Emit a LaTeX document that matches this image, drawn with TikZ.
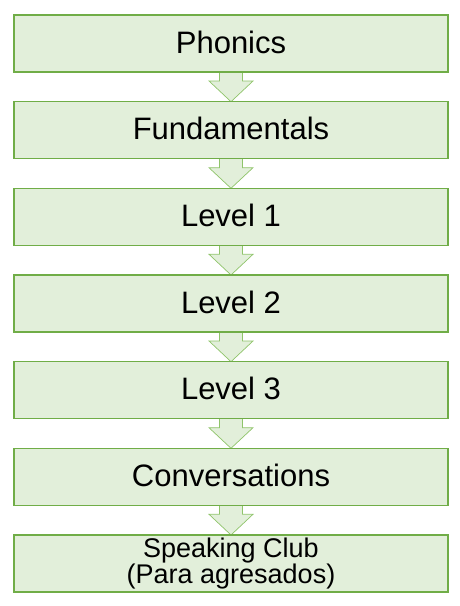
\documentclass[tikz,border=0pt]{standalone}
\usepackage{fontspec}
\setmainfont{Liberation Sans}
\usetikzlibrary{calc}
\definecolor{boxfill}{HTML}{E2EFDA}
\definecolor{boxline}{HTML}{70AD47}
\definecolor{arrline}{HTML}{8FC46A}
\tikzset{
  stepbox/.style={draw=boxline, fill=boxfill, line width=1.5pt, minimum width=434pt, minimum height=57pt, inner sep=0pt, font=\fontsize{31}{34}\selectfont, text=black, text height=23pt, text depth=4pt},
  smallbox/.style={draw=boxline, fill=boxfill, line width=1.5pt, minimum width=434pt, minimum height=57pt, inner sep=0pt, text=black, font=\fontsize{27}{25}\selectfont, align=center},
  flowarrow/.style={draw=arrline, fill=boxfill, line width=0.7pt, line join=miter}
}
\begin{document}
\begin{tikzpicture}[x=1pt, y=-1pt]
\useasboundingbox (0,0) rectangle (460,606);
\path (231,43.5) coordinate (c1) (231,130.2) coordinate (c2) (231,216.8) coordinate (c3)
      (231,303.5) coordinate (c4) (231,390.2) coordinate (c5) (231,476.8) coordinate (c6)
      (231,563.5) coordinate (c7);
\foreach \a/\b in {c1/c2,c2/c3,c3/c4,c4/c5,c5/c6,c6/c7}{
  \draw[flowarrow] ($(\a)+(-11.5,0)$) -- ($(\a)+(-11.5,37.5)$) -- ($(\a)+(-22,37.5)$)
     -- ($(\b)+(0,-28.5)$) -- ($(\a)+(22,37.5)$) -- ($(\a)+(11.5,37.5)$) -- ($(\a)+(11.5,0)$) -- cycle;
}
\node[stepbox] (b1) at (c1) {Phonics};
\node[stepbox] (b2) at (c2) {Fundamentals};
\node[stepbox] (b3) at (c3) {Level 1};
\node[stepbox] (b4) at (c4) {Level 2};
\node[stepbox] (b5) at (c5) {Level 3};
\node[stepbox] (b6) at (c6) {Conversations};
\node[smallbox] (b7) at (c7) {Speaking Club\\(Para agresados)};
\end{tikzpicture}
\end{document}
